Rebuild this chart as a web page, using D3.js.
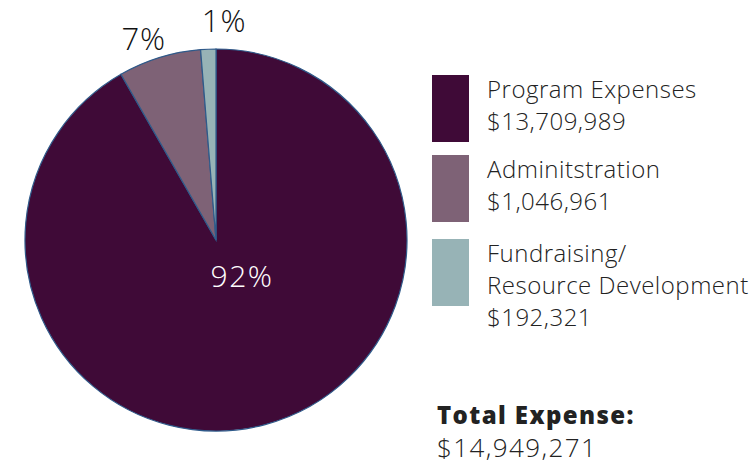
<!DOCTYPE html>
<html><head><meta charset="utf-8">
<script src="https://cdn.jsdelivr.net/npm/d3@7"></script>
<style>body{margin:0;background:#fff}svg{display:block}</style>
</head><body><svg width="756" height="466"></svg>
<script>
const categories = ["Program Expenses", "Adminitstration", "Fundraising/\nResource Development"];
const amounts = [13709989, 1046961, 192321];
const amountLabels = ["$13,709,989", "$1,046,961", "$192,321"];
const percentLabels = ["92%", "7%", "1%"];
const colors = ["#3f0a37", "#7e6276", "#97b3b6"];
const totalLabel = "Total Expense:";
const totalValue = "$14,949,271";

const svg = d3.select("svg");
const font = "'Open Sans', 'Lato', sans-serif";
const cx = 216, cy = 240, r = 191;
const pie = d3.pie().sort(null).value(d => d)(amounts);
const arc = d3.arc().innerRadius(0).outerRadius(r);
const g = svg.append("g").attr("transform", `translate(${cx},${cy})`);
g.selectAll("path").data(pie).join("path")
  .attr("d", arc).attr("fill", (d, i) => colors[i])
  .attr("stroke", "#2f5a8a").attr("stroke-width", 1.2);

g.append("text").attr("x", 26).attr("y", 47).attr("text-anchor", "middle")
  .attr("fill", "#fff").attr("font-family", font).attr("font-weight", 300)
  .attr("font-size", 30).attr("letter-spacing", 1.5).text(percentLabels[0]);
const outerR = [0, 210, 219], dxs = [0, -10, 17];
[1, 2].forEach(i => {
  const o = d3.arc().innerRadius(outerR[i]).outerRadius(outerR[i]);
  const c = o.centroid(pie[i]);
  g.append("text").attr("x", c[0] + dxs[i]).attr("y", c[1] + 11)
    .attr("text-anchor", "middle").attr("fill", "#111").attr("font-family", font)
    .attr("font-weight", 300).attr("font-size", 31).attr("letter-spacing", 1).text(percentLabels[i]);
});

const legY = [75, 155, 239];
categories.forEach((c, i) => {
  svg.append("rect").attr("x", 432).attr("y", legY[i]).attr("width", 37).attr("height", 67).attr("fill", colors[i]);
  const lines = c.split("\n").concat([amountLabels[i]]);
  const t = svg.append("text").attr("x", 487).attr("y", legY[i] + 23)
    .attr("font-family", font).attr("font-weight", 300).attr("font-size", 24)
    .attr("letter-spacing", 0.5).attr("fill", "#222");
  lines.forEach((l, j) => t.append("tspan").attr("x", 487).attr("dy", j === 0 ? 0 : 32).text(l));
});
svg.append("text").attr("x", 437).attr("y", 424).attr("font-family", font).attr("font-weight", 800)
  .attr("font-size", 24).attr("letter-spacing", 1.4).attr("fill", "#222").text(totalLabel);
svg.append("text").attr("x", 437).attr("y", 457).attr("font-family", font).attr("font-weight", 300)
  .attr("font-size", 26).attr("letter-spacing", 1.4).attr("fill", "#222").text(totalValue);
</script></body></html>
